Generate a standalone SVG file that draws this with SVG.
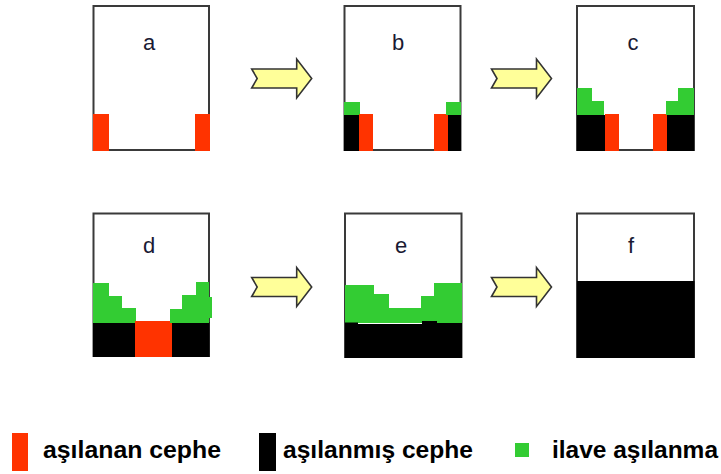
<svg xmlns="http://www.w3.org/2000/svg" width="721" height="474" viewBox="0 0 721 474">
  <defs>
    <style>
      .frame { fill: #ffffff; stroke: #3a3a3a; stroke-width: 2; }
      .red { fill: #ff3300; }
      .blk { fill: #000000; }
      .grn { fill: #33cc33; }
      .lbl { font-family: "Liberation Sans", Arial, sans-serif; font-size: 22px; fill: #1a1a33; text-anchor: middle; }
      .leg { font-family: "Liberation Sans", Arial, sans-serif; font-size: 24px; font-weight: bold; fill: #000000; }
      .arrow { fill: #ffff99; stroke: #333333; stroke-width: 1.6; stroke-linejoin: miter; }
    </style>
    <path id="notched-arrow" d="M0,-9.5 L45,-9.5 L45,-19.5 L60,0 L45,19.5 L45,9.5 L0,9.5 L5.5,0 Z"/>
  </defs>

  <rect width="721" height="474" fill="#ffffff"/>

  <!-- stage a -->
  <g id="node-a">
    <rect class="frame" x="93.5" y="6" width="115.5" height="144"/>
    <rect class="red" x="93" y="114" width="16" height="37"/>
    <rect class="red" x="195" y="114" width="15" height="37"/>
    <text class="lbl" x="149" y="50">a</text>
  </g>

  <!-- stage b -->
  <g id="node-b">
    <rect class="frame" x="344.5" y="6" width="116" height="144"/>
    <rect class="grn" x="344" y="102" width="16" height="13"/>
    <rect class="blk" x="344" y="115" width="15" height="36"/>
    <rect class="red" x="359" y="114" width="14" height="37"/>
    <rect class="red" x="434" y="114" width="14" height="37"/>
    <rect class="blk" x="448" y="115" width="13" height="36"/>
    <rect class="grn" x="446" y="102" width="15" height="13"/>
    <text class="lbl" x="398" y="50">b</text>
  </g>

  <!-- stage c -->
  <g id="node-c">
    <rect class="frame" x="577" y="6" width="117" height="144"/>
    <polygon class="grn" points="577,88 592,88 592,101 604,101 604,115 577,115"/>
    <rect class="blk" x="577" y="115" width="28" height="36"/>
    <rect class="red" x="605" y="114" width="14" height="37"/>
    <rect class="red" x="653" y="114" width="14" height="37"/>
    <rect class="blk" x="667" y="115" width="27" height="36"/>
    <polygon class="grn" points="666,101 678,101 678,88 694,88 694,115 666,115"/>
    <text class="lbl" x="633" y="50">c</text>
  </g>

  <!-- stage d -->
  <g id="node-d">
    <rect class="frame" x="93.5" y="213.5" width="115.5" height="142.5"/>
    <polygon class="grn" points="93,283 109,283 109,296 122,296 122,308 136,308 136,323 93,323"/>
    <rect class="blk" x="93" y="323" width="42" height="34"/>
    <rect class="red" x="135" y="321" width="37" height="36"/>
    <rect class="blk" x="172" y="322" width="37.5" height="35"/>
    <polygon class="grn" points="170,309 182,309 182,295 196,295 196,282 209,282 209,297 212,297 212,318 209,318 209,323 170,323"/>
    <text class="lbl" x="149" y="253">d</text>
  </g>

  <!-- stage e -->
  <g id="node-e">
    <rect class="frame" x="345" y="213.5" width="116.5" height="143.5"/>
    <polygon class="grn" points="345,285 374,285 374,294 389,294 389,308 421,308 421,296 434,296 434,283 462,283 462,323 345,323"/>
    <polygon class="blk" points="345,322.5 358,322.5 358,324 422,324 422,321 437,321 437,323 462,323 462,358 345,358"/>
    <text class="lbl" x="401" y="253">e</text>
  </g>

  <!-- stage f -->
  <g id="node-f">
    <rect class="frame" x="577" y="213.5" width="117" height="143.5"/>
    <rect class="blk" x="577" y="281" width="117.5" height="77"/>
    <text class="lbl" x="631" y="253">f</text>
  </g>

  <!-- transition arrows -->
  <g id="connectors">
    <use href="#notched-arrow" class="arrow" transform="translate(251.7,78.5)"/>
    <use href="#notched-arrow" class="arrow" transform="translate(491.5,78.5)"/>
    <use href="#notched-arrow" class="arrow" transform="translate(251.7,287)"/>
    <use href="#notched-arrow" class="arrow" transform="translate(491.5,287)"/>
  </g>

  <!-- legend -->
  <g id="legend">
    <rect class="red" x="12" y="433" width="16" height="38"/>
    <text class="leg" x="43" y="458" textLength="178" lengthAdjust="spacingAndGlyphs">aşılanan cephe</text>
    <rect class="blk" x="259" y="433" width="17" height="38"/>
    <text class="leg" x="283" y="458" textLength="190" lengthAdjust="spacingAndGlyphs">aşılanmış cephe</text>
    <rect class="grn" x="515" y="443" width="14" height="14"/>
    <text class="leg" x="552" y="458" textLength="166" lengthAdjust="spacingAndGlyphs">ilave aşılanma</text>
  </g>
</svg>
